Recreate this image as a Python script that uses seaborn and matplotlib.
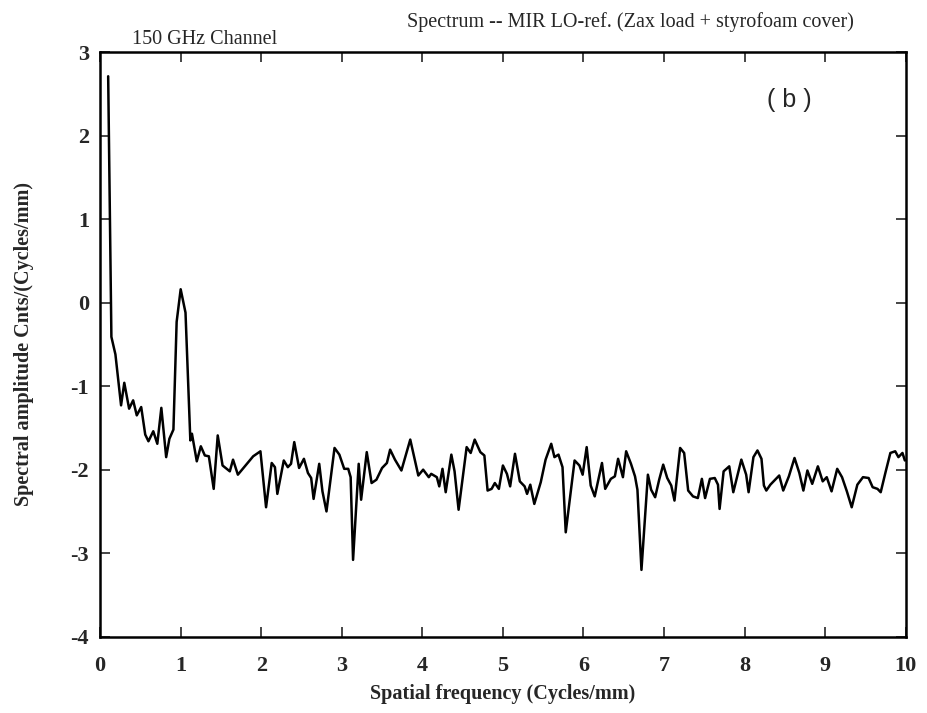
import matplotlib
matplotlib.use("Agg")
import matplotlib.pyplot as plt
import seaborn as sns
import pandas as pd

# Spatial frequency (cycles/mm)
freq = [0.10, 0.14, 0.19, 0.26, 0.30, 0.36, 0.41, 0.455, 0.51, 0.56,
        0.60, 0.66, 0.71, 0.76, 0.82, 0.86, 0.91, 0.95, 1.00, 1.06,
        1.12, 1.14, 1.20, 1.25, 1.30, 1.35, 1.41, 1.46, 1.52, 1.61,
        1.65, 1.71, 1.90, 1.99, 2.06, 2.13, 2.17, 2.20, 2.28, 2.33,
        2.37, 2.41, 2.47, 2.53, 2.58, 2.62, 2.65, 2.72, 2.76, 2.81,
        2.91, 2.97, 3.03, 3.08, 3.11, 3.14, 3.21, 3.24, 3.31, 3.37,
        3.43, 3.50, 3.56, 3.60, 3.66, 3.74, 3.79, 3.85, 3.95, 4.01,
        4.08, 4.11, 4.18, 4.21, 4.25, 4.29, 4.36, 4.40, 4.45, 4.55,
        4.60, 4.65, 4.72, 4.77, 4.81, 4.86, 4.90, 4.95, 5.00, 5.05,
        5.09, 5.15, 5.21, 5.27, 5.30, 5.34, 5.39, 5.47, 5.53, 5.60,
        5.64, 5.69, 5.74, 5.78, 5.89, 5.95, 5.99, 6.04, 6.09, 6.14,
        6.23, 6.27, 6.34, 6.39, 6.43, 6.49, 6.53, 6.59, 6.64, 6.67,
        6.72, 6.80, 6.84, 6.89, 6.94, 6.99, 7.04, 7.09, 7.13, 7.20,
        7.25, 7.30, 7.36, 7.42, 7.47, 7.51, 7.57, 7.63, 7.67, 7.69,
        7.74, 7.81, 7.86, 7.96, 8.02, 8.05, 8.11, 8.16, 8.21, 8.24,
        8.27, 8.32, 8.43, 8.48, 8.55, 8.62, 8.68, 8.73, 8.78, 8.84,
        8.91, 8.97, 9.02, 9.08, 9.15, 9.21, 9.27, 9.33, 9.40, 9.47,
        9.54, 9.59, 9.65, 9.69, 9.75, 9.81, 9.87, 9.91, 9.96, 9.99]

# Spectral amplitude, counts/(cycles/mm)
amplitude = [2.71, -0.41, -0.62, -1.23, -0.96, -1.27, -1.17, -1.35, -1.25, -1.58,
             -1.66, -1.54, -1.69, -1.26, -1.85, -1.63, -1.52, -0.23, 0.16, -0.12,
             -1.65, -1.57, -1.90, -1.72, -1.83, -1.84, -2.23, -1.59, -1.95, -2.02,
             -1.88, -2.06, -1.84, -1.78, -2.45, -1.92, -1.97, -2.29, -1.89, -1.97,
             -1.93, -1.67, -1.98, -1.87, -2.04, -2.10, -2.35, -1.93, -2.26, -2.50,
             -1.74, -1.82, -1.99, -1.99, -2.09, -3.08, -1.93, -2.36, -1.79, -2.16,
             -2.12, -1.98, -1.92, -1.76, -1.88, -2.01, -1.84, -1.64, -2.07, -2.00,
             -2.09, -2.05, -2.09, -2.20, -1.99, -2.27, -1.82, -2.02, -2.48, -1.73,
             -1.80, -1.64, -1.79, -1.83, -2.25, -2.23, -2.16, -2.23, -1.95, -2.05,
             -2.20, -1.81, -2.14, -2.20, -2.29, -2.18, -2.41, -2.15, -1.88, -1.69,
             -1.85, -1.82, -1.97, -2.75, -1.89, -1.95, -2.06, -1.73, -2.19, -2.32,
             -1.92, -2.23, -2.11, -2.08, -1.87, -2.09, -1.78, -1.93, -2.08, -2.24,
             -3.20, -2.06, -2.24, -2.33, -2.12, -1.94, -2.10, -2.19, -2.37, -1.74,
             -1.80, -2.25, -2.32, -2.34, -2.11, -2.34, -2.11, -2.10, -2.18, -2.47,
             -2.02, -1.96, -2.27, -1.88, -2.06, -2.27, -1.85, -1.77, -1.87, -2.19,
             -2.25, -2.18, -2.07, -2.25, -2.08, -1.86, -2.04, -2.25, -2.01, -2.17,
             -1.96, -2.14, -2.09, -2.26, -1.99, -2.09, -2.26, -2.45, -2.18, -2.09,
             -2.10, -2.21, -2.23, -2.27, -2.03, -1.80, -1.78, -1.85, -1.80, -1.89]

x_ticks = list(range(0, 11))
y_ticks = list(range(-4, 4))

sns.set_style("ticks")
plt.rcParams["font.family"] = ["Liberation Serif", "DejaVu Serif"]

df = pd.DataFrame({"freq": freq, "amp": amplitude})

fig = plt.figure(figsize=(9.27, 7.13), dpi=100)
ax = fig.add_axes([0.108, 0.107, 0.869, 0.820])

sns.lineplot(data=df, x="freq", y="amp", ax=ax, color="black",
             linewidth=1.8, sort=False, estimator=None)

ax.set_xlim(0, 10)
ax.set_ylim(-4, 3)
ax.set_xticks(x_ticks)
ax.set_yticks(y_ticks)
ax.set_xticklabels([str(t) for t in x_ticks], fontsize=16, fontweight="bold")
ax.set_yticklabels([str(t) for t in y_ticks], fontsize=16, fontweight="bold")
ax.tick_params(axis="x", pad=14)
ax.tick_params(axis="y", pad=8)
ax.tick_params(direction="in", length=7, width=1.2, top=True, right=True,
               labeltop=False, labelright=False)
for side in ax.spines.values():
    side.set_linewidth(1.8)
    side.set_color("black")

ax.set_xlabel("Spatial frequency (Cycles/mm)", fontsize=14.5,
              fontweight="bold", labelpad=6)
ax.set_ylabel("Spectral amplitude Cnts/(Cycles/mm)", fontsize=14.5,
              fontweight="bold", labelpad=26)

fig.text(0.221, 0.944, "150 GHz Channel", fontsize=14.5, ha="center", va="center")
fig.text(0.68, 0.969, "Spectrum -- MIR LO-ref. (Zax load + styrofoam cover)",
         fontsize=14.5, ha="center", va="center")
ax.text(8.56, 2.43, "( b )", fontsize=18, ha="center", va="center",
        family=["Liberation Sans", "DejaVu Sans"])

fig.savefig("out.png", dpi=100, facecolor="white")
